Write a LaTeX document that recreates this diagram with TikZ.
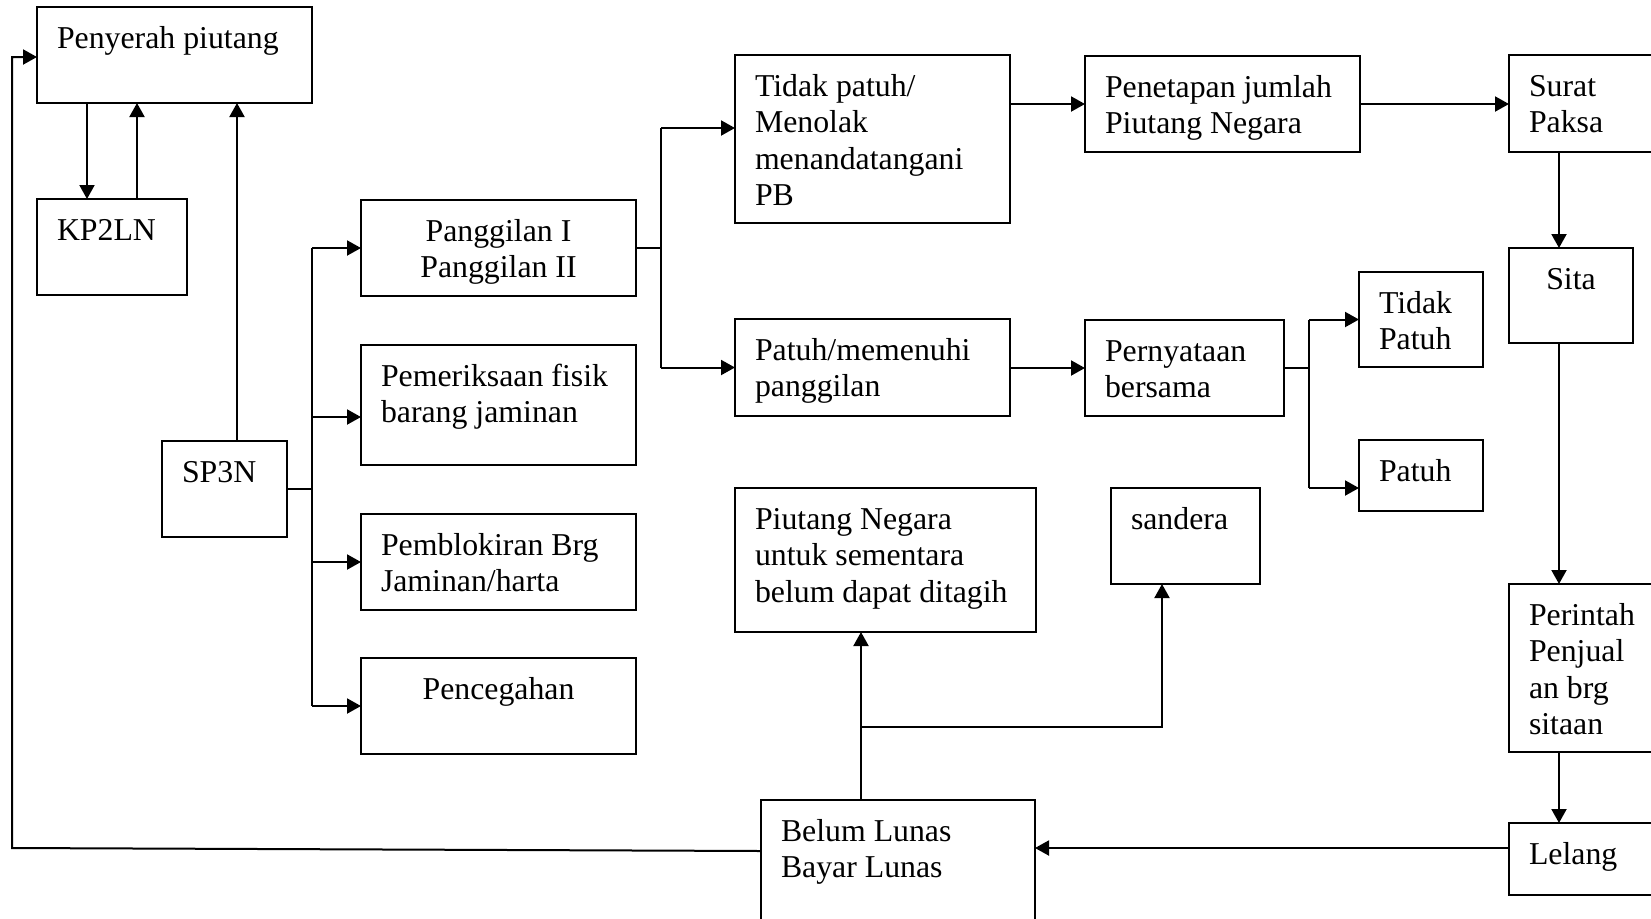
\documentclass[tikz,border=0pt]{standalone}
\usepackage{fontspec}
\setmainfont{Liberation Serif}
\usetikzlibrary{arrows.meta,fit,calc}
\tikzset{
  boxnode/.style={draw, line width=1pt, inner sep=0pt, outer sep=0pt, rectangle},
  txt/.style={inner sep=0pt, outer sep=0pt, font=\fontsize{15.9pt}{18.3pt}\selectfont},
  ln/.style={line width=1pt},
  arr/.style={line width=1pt, -{Triangle[length=7pt,width=7.5pt]}},
}
\newcommand\boxL[6]{%
  \node[boxnode, fit={(#2,#3) (#4,#5)}] (#1) {};
  \node[txt, anchor=base west] (#1t) at ([xshift=10pt,yshift=-20.5pt]#1.north west) {\begin{tabular}[t]{@{}l@{}}#6\end{tabular}};}
\newcommand\boxC[6]{%
  \node[boxnode, fit={(#2,#3) (#4,#5)}] (#1) {};
  \node[txt, anchor=base] (#1t) at ([yshift=-20.5pt]#1.north) {\begin{tabular}[t]{@{}c@{}}#6\end{tabular}};}
\begin{document}
\begin{tikzpicture}[x=0.5pt,y=-0.5pt]
\useasboundingbox (0,0) rectangle (1651,918);
\clip (0,0) rectangle (1651,918);
% boxes
\boxL{pen}{37}{7}{312}{103}{Penyerah piutang}
\boxL{kp}{37}{199}{187}{295}{KP2LN}
\boxL{sp}{162}{441}{287}{537}{SP3N}
\boxC{pg}{361}{200}{636}{296}{Panggilan I\\Panggilan II}
\boxL{pm}{361}{345}{636}{465}{Pemeriksaan fisik\\barang jaminan}
\boxL{pb}{361}{514}{636}{610}{Pemblokiran Brg\\Jaminan/harta}
\boxC{pc}{361}{658}{636}{754}{Pencegahan}
\boxL{tp}{735}{55}{1010}{223}{Tidak patuh/\\Menolak\\menandatangani\\PB}
\boxL{pt}{1085}{56}{1360}{152}{Penetapan jumlah\\Piutang Negara}
\boxL{su}{1509}{55}{1700}{152}{Surat\\Paksa}
\boxL{ph}{735}{319}{1010}{416}{Patuh/memenuhi\\panggilan}
\boxL{py}{1085}{320}{1284}{416}{Pernyataan\\bersama}
\boxL{tdp}{1359}{272}{1483}{367}{Tidak\\Patuh}
\boxL{pa}{1359}{440}{1483}{511}{Patuh}
\boxC{si}{1509}{248}{1633}{343}{Sita}
\boxL{pn}{735}{488}{1036}{632}{Piutang Negara\\untuk sementara\\belum dapat ditagih}
\boxL{sa}{1111}{488}{1260}{584}{sandera}
\boxL{pr}{1509}{584}{1700}{752}{Perintah\\Penjual\\an brg\\sitaan}
\boxL{le}{1509}{823}{1700}{895}{Lelang}
\boxL{bl}{761}{800}{1035}{960}{Belum Lunas\\Bayar Lunas}
% guide coordinates
\coordinate (c1) at (87,0);
\coordinate (c2) at (137,0);
\coordinate (c3) at (237,0);
\coordinate (b1) at (312,0);
\coordinate (b2) at (661,0);
\coordinate (b3) at (1309,0);
\coordinate (b4) at (1559,0);
\coordinate (b5) at (861,0);
\coordinate (b6) at (1162,0);
\coordinate (lp) at (12,0);
% Penyerah / KP2LN / SP3N
\draw[arr] (c1 |- pen.south) -- (c1 |- kp.north);
\draw[arr] (c2 |- kp.north) -- (c2 |- pen.south);
\draw[arr] (c3 |- sp.north) -- (c3 |- pen.south);
% SP3N branch
\draw[ln] (sp.east) -- (b1 |- sp.east);
\draw[ln] (b1 |- pg.west) -- (b1 |- pc.west);
\coordinate (pmin) at ($(pm.north west)+(0,72)$);
\draw[arr] (b1 |- pg.west) -- (pg.west);
\draw[arr] (b1 |- pmin) -- (pmin);
\draw[arr] (b1 |- pb.west) -- (pb.west);
\draw[arr] (b1 |- pc.west) -- (pc.west);
% Panggilan branch
\coordinate (tpin) at ($(tp.north west)+(0,73)$);
\draw[ln] (pg.east) -- (b2 |- pg.east);
\draw[ln] (b2 |- tpin) -- (b2 |- ph.west);
\draw[arr] (b2 |- tpin) -- (tpin);
\draw[arr] (b2 |- ph.west) -- (ph.west);
% top row
\draw[arr] (tp.east |- pt.west) -- (pt.west);
\draw[arr] (pt.east) -- (pt.east -| su.west);
% middle row
\draw[arr] (ph.east |- py.west) -- (py.west);
\coordinate (pain) at ($(pa.north west)+(0,48)$);
\draw[ln] (py.east) -- (b3 |- py.east);
\draw[ln] (b3 |- tdp.west) -- (b3 |- pain);
\draw[arr] (b3 |- tdp.west) -- (tdp.west);
\draw[arr] (b3 |- pain) -- (pain);
% right column
\draw[arr] (b4 |- su.south) -- (b4 |- si.north);
\draw[arr] (b4 |- si.south) -- (b4 |- pr.north);
\draw[arr] (b4 |- pr.south) -- (b4 |- le.north);
\coordinate (lein) at ($(le.north west)+(0,25)$);
\draw[arr] (lein) -- (lein -| bl.east);
% Belum Lunas upwards
\coordinate (jn) at ($(b5 |- bl.north)+(0,-73)$);
\draw[arr] (b5 |- bl.north) -- (b5 |- pn.south);
\draw[arr] (jn) -| (b6 |- sa.south);
% loop back to Penyerah
\coordinate (blout) at ($(bl.north west)+(0,51)$);
\coordinate (penin) at ($(pen.north west)+(0,50)$);
\draw[arr] (blout) -- ($(lp |- blout)+(0,-3)$) |- (penin);
\end{tikzpicture}
\end{document}
